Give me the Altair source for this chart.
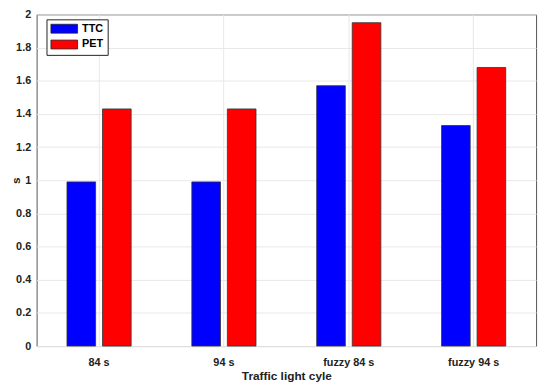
import altair as alt
import pandas as pd

categories = ["84 s", "94 s", "fuzzy 84 s", "fuzzy 94 s"]
series = ["TTC", "PET"]
ttc = [0.99, 0.99, 1.57, 1.33]
pet = [1.43, 1.43, 1.95, 1.68]
colors = ["#0000ff", "#ff0000"]
y_ticks = [0, 0.2, 0.4, 0.6, 0.8, 1.0, 1.2, 1.4, 1.6, 1.8, 2.0]

rows = []
for c, a, b in zip(categories, ttc, pet):
    rows.append({"cycle": c, "metric": "TTC", "value": a})
    rows.append({"cycle": c, "metric": "PET", "value": b})
df = pd.DataFrame(rows)

FONT = "Liberation Sans"

chart = alt.Chart(df).mark_bar(stroke="#333333", strokeWidth=0.8).encode(
    x=alt.X(
        "cycle:N",
        sort=categories,
        scale=alt.Scale(paddingInner=0, paddingOuter=0),
        axis=alt.Axis(
            title="Traffic light cyle",
            labelAngle=0,
            bandPosition=0.5,
            grid=True,
            gridColor="#e8e8e8",
            tickSize=0,
            labelPadding=11,
            titlePadding=3,
            labelFont=FONT,
            labelFontSize=11,
            labelFontWeight="bold",
            labelColor="#222222",
            titleFont=FONT,
            titleFontSize=12,
            titleFontWeight="bold",
            titleColor="#222222",
            domain=False,
        ),
    ),
    xOffset=alt.XOffset(
        "metric:N",
        sort=series,
        scale=alt.Scale(paddingInner=0.194, paddingOuter=0.854),
    ),
    y=alt.Y(
        "value:Q",
        scale=alt.Scale(domain=[0, 2], nice=False),
        axis=alt.Axis(
            title="s",
            values=y_ticks,
            format="~g",
            grid=True,
            gridColor="#e8e8e8",
            tickSize=0,
            labelPadding=6,
            labelFont=FONT,
            labelFontSize=11,
            labelFontWeight="bold",
            labelColor="#222222",
            titleFont=FONT,
            titleFontSize=12,
            titleFontWeight="bold",
            titleColor="#222222",
            titleX=-21,
            titleY=168,
            titleAngle=-90,
            titleBaseline="middle",
            domain=False,
        ),
    ),
    color=alt.Color(
        "metric:N",
        sort=series,
        scale=alt.Scale(domain=series, range=colors),
        legend=alt.Legend(
            title=None,
            orient="none",
            legendX=10,
            legendY=5,
            symbolType="M-1,-0.9H4.4V0.9H-1Z",
            symbolSize=100,
            symbolStrokeColor="#222222",
            symbolStrokeWidth=0.8,
            labelOffset=21,
            labelFont=FONT,
            labelFontSize=11,
            labelFontWeight="bold",
            labelColor="#000000",
            rowPadding=3,
            padding=4,
            strokeColor="#222222",
            fillColor="white",
        ),
    ),
).properties(
    width=506,
    height=336,
    autosize=alt.AutoSizeParams(type="none"),
    padding={"left": 29, "top": 4, "right": 6, "bottom": 40},
).configure_view(
    stroke="#555555",
    strokeWidth=1,
)

chart.save("out.html", embed_options={"renderer": "svg", "actions": False})
